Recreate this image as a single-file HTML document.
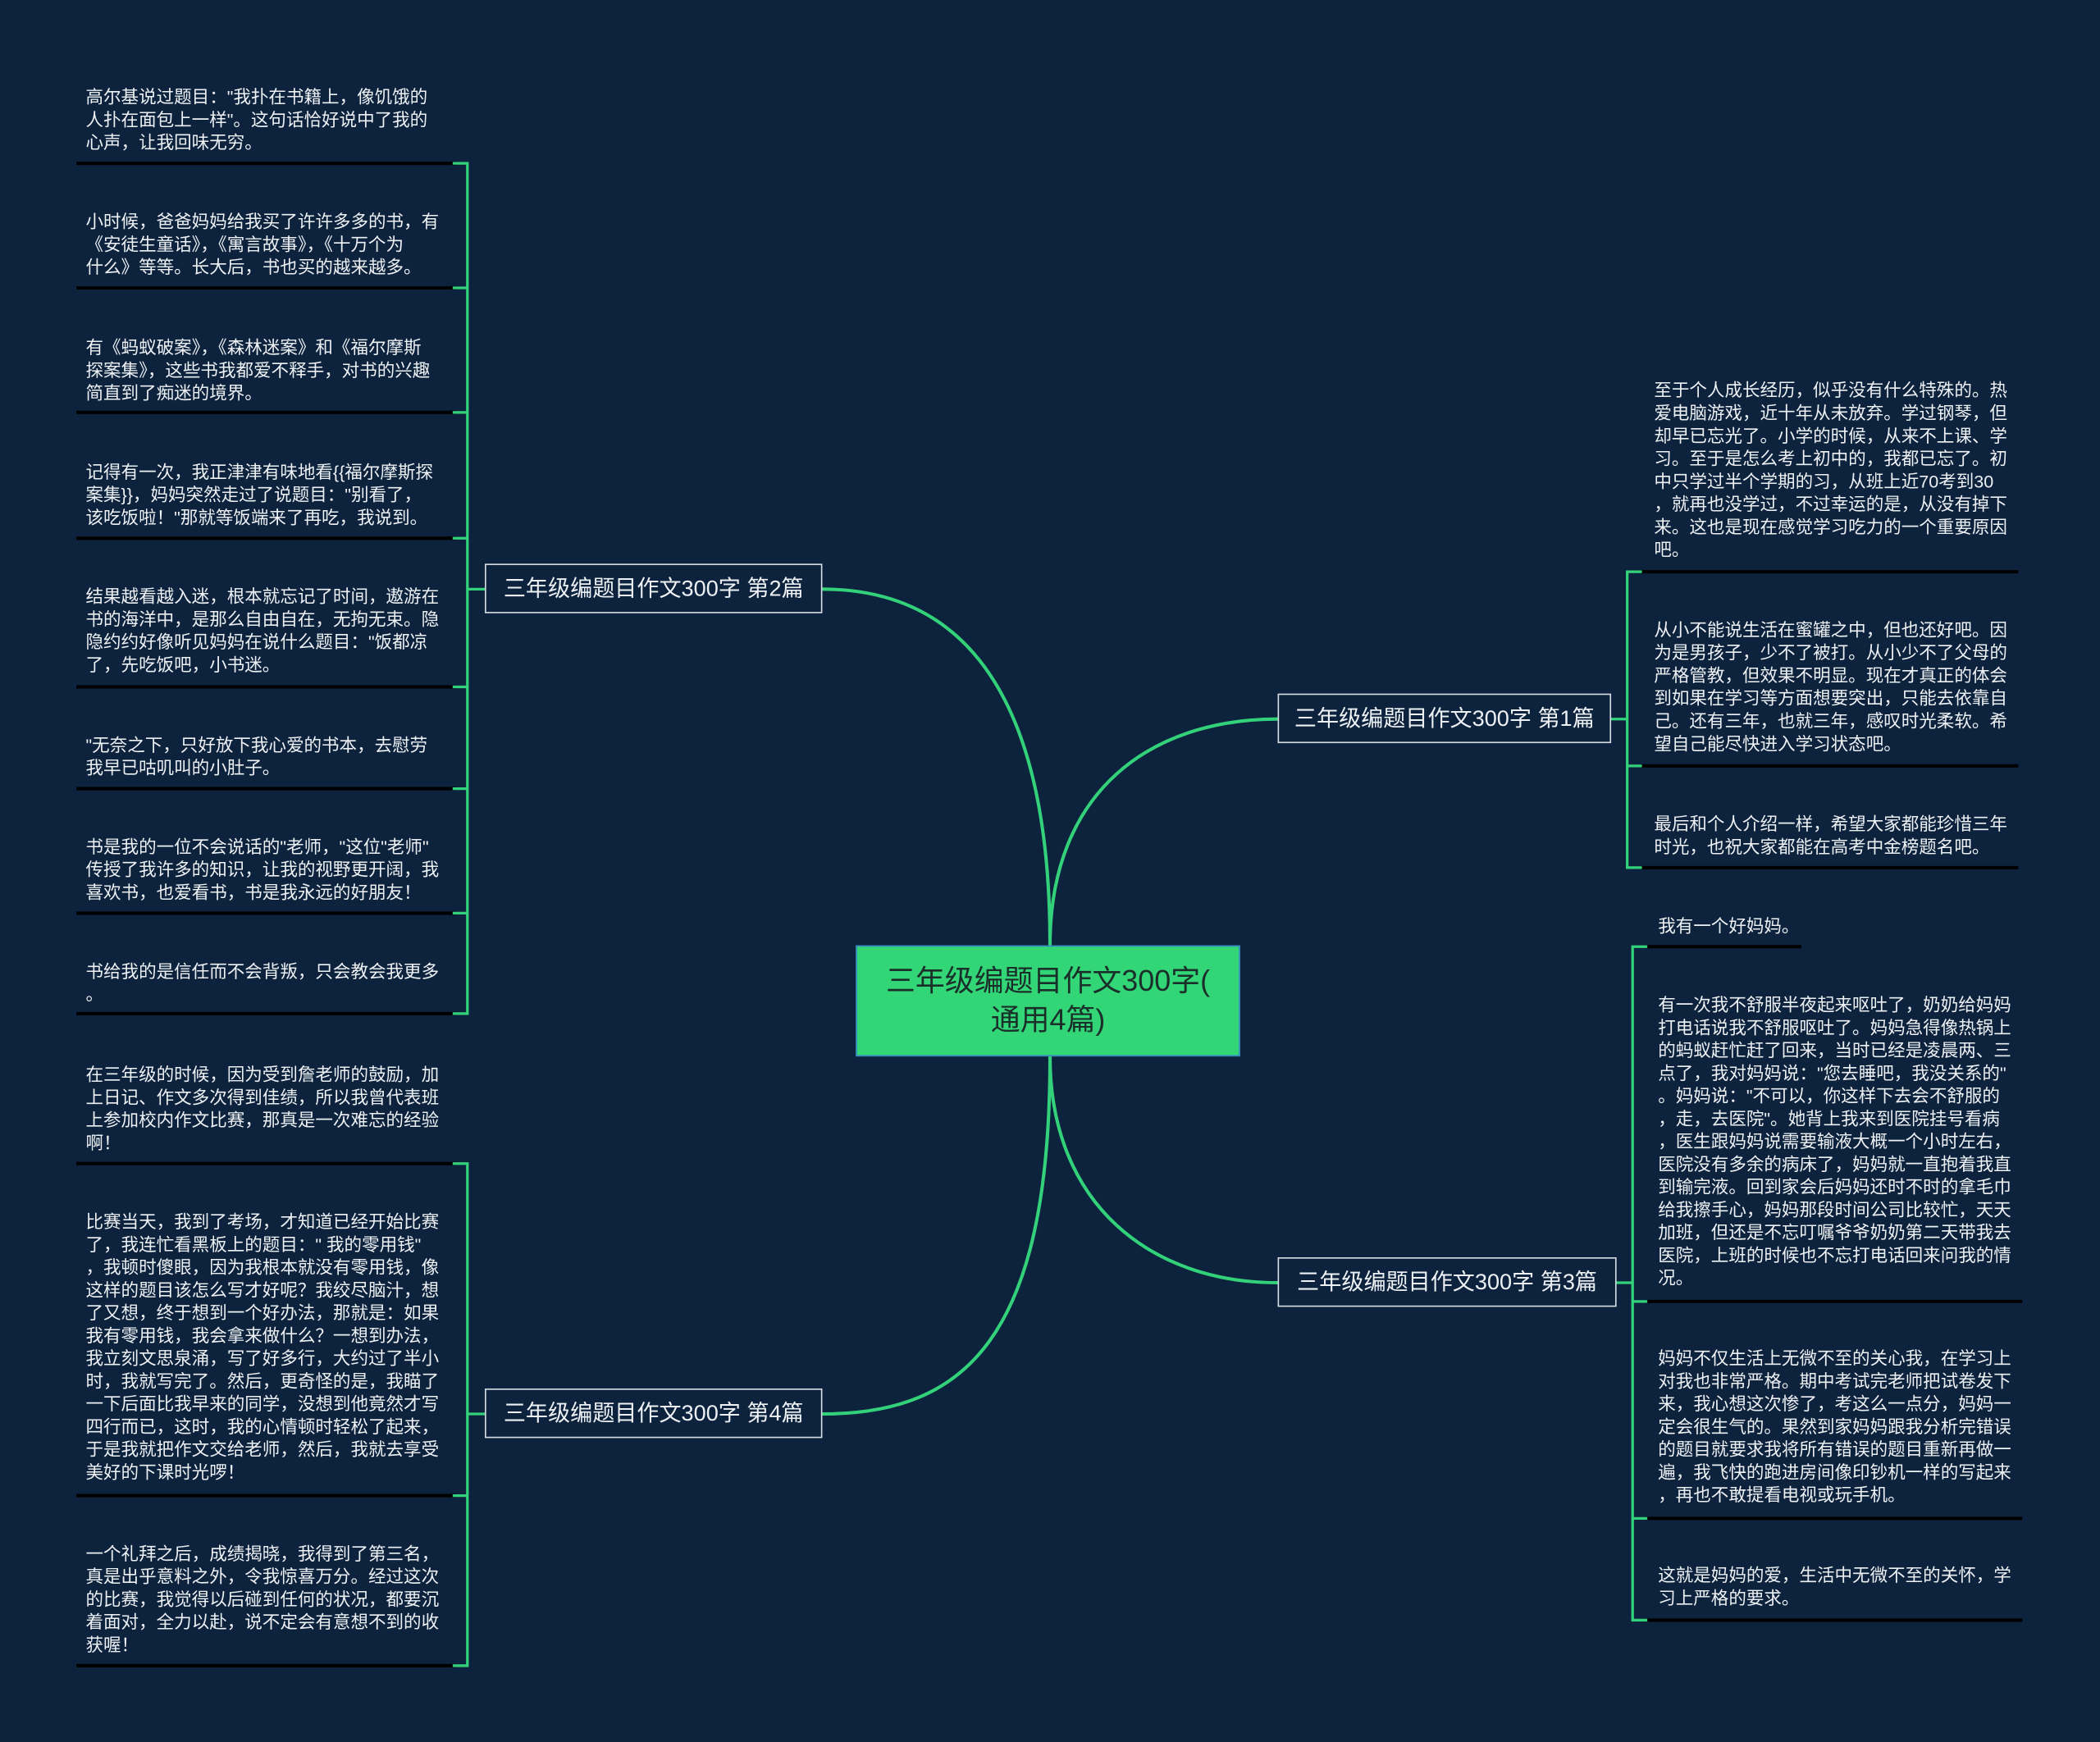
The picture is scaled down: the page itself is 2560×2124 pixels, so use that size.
<!DOCTYPE html>
<html><head><meta charset="utf-8"><style>
html,body{margin:0;padding:0;background:#0c223d;}
body{width:2560px;height:2124px;overflow:hidden;}
#w{position:absolute;left:0;top:0;width:1568px;height:1301px;transform:scale(1.63265,1.63259);transform-origin:0 0;font-family:"Liberation Sans","Noto Sans CJK SC",sans-serif;}
.t{position:absolute;color:#eef1f4;font-size:13.2px;line-height:17px;white-space:nowrap;}
.b{position:absolute;border:1.5px solid #d8dde3;color:#eef1f4;font-size:16.6px;line-height:35px;height:35px;text-align:center;box-sizing:content-box;white-space:nowrap;}
.c{position:absolute;left:639px;top:706px;width:287px;background:#32d676;border:1.5px solid #3a86c8;color:#1a2e2a;font-size:22px;line-height:29px;text-align:center;padding-top:11px;box-sizing:border-box;height:83px;white-space:nowrap;}
svg{position:absolute;left:0;top:0;}
</style></head><body><div id="w">
<svg width="1568" height="1301">
<g fill="none" stroke="#33d17a" stroke-width="2.5">
<path d="M784 706 C784 520 720 440 614 440"/>
<path d="M784 706 C784 590 860 537 954 537"/>
<path d="M784 789 C784 900 860 958 954 958"/>
<path d="M784 789 C784 1000 720 1056 614 1056"/>
</g>
<g stroke="#000" stroke-width="2.5">
<line x1="57" y1="122" x2="340" y2="122"/><line x1="57" y1="215" x2="340" y2="215"/><line x1="57" y1="308" x2="340" y2="308"/><line x1="57" y1="402" x2="340" y2="402"/><line x1="57" y1="513" x2="340" y2="513"/><line x1="57" y1="589" x2="340" y2="589"/><line x1="57" y1="682" x2="340" y2="682"/><line x1="57" y1="757" x2="340" y2="757"/>
<line x1="57" y1="869" x2="340" y2="869"/><line x1="57" y1="1117" x2="340" y2="1117"/><line x1="57" y1="1244" x2="340" y2="1244"/>
<line x1="1225" y1="427" x2="1507" y2="427"/><line x1="1225" y1="572" x2="1507" y2="572"/><line x1="1225" y1="648" x2="1507" y2="648"/>
<line x1="1229" y1="707" x2="1345" y2="707"/><line x1="1229" y1="972" x2="1510" y2="972"/><line x1="1229" y1="1134" x2="1510" y2="1134"/><line x1="1229" y1="1210" x2="1510" y2="1210"/>
</g>
<g fill="none" stroke="#33d17a" stroke-width="2">
<path d="M338 122 H349 V757 H338 M338 215 H349 M338 308 H349 M338 402 H349 M338 513 H349 M338 589 H349 M338 682 H349 M349 440 H362"/>
<path d="M338 869 H349 V1244 H338 M338 1117 H349 M349 1056 H362"/>
<path d="M1226 427 H1215 V648 H1226 M1215 572 H1226 M1202 537 H1215"/>
<path d="M1230 707 H1219 V1210 H1230 M1219 972 H1230 M1219 1134 H1230 M1206 958 H1219"/>
</g>
</svg>
<div class="c">三年级编题目作文300字(<br>通用4篇)</div>
<div class="b" style="left:362px;top:421px;width:250px;">三年级编题目作文300字 第2篇</div>
<div class="b" style="left:362px;top:1037px;width:250px;">三年级编题目作文300字 第4篇</div>
<div class="b" style="left:954px;top:518px;width:247px;">三年级编题目作文300字 第1篇</div>
<div class="b" style="left:954px;top:939px;width:251px;">三年级编题目作文300字 第3篇</div>

<div class="t" style="left:64px;top:64px">高尔基说过题目："我扑在书籍上，像饥饿的<br>人扑在面包上一样"。这句话恰好说中了我的<br>心声，让我回味无穷。</div>
<div class="t" style="left:64px;top:157px">小时候，爸爸妈妈给我买了许许多多的书，有<br>《安徒生童话》，《寓言故事》，《十万个为<br>什么》等等。长大后，书也买的越来越多。</div>
<div class="t" style="left:64px;top:251px">有《蚂蚁破案》，《森林迷案》和《福尔摩斯<br>探案集》，这些书我都爱不释手，对书的兴趣<br>简直到了痴迷的境界。</div>
<div class="t" style="left:64px;top:344px">记得有一次，我正津津有味地看{{福尔摩斯探<br>案集}}，妈妈突然走过了说题目："别看了，<br>该吃饭啦！"那就等饭端来了再吃，我说到。</div>
<div class="t" style="left:64px;top:437px">结果越看越入迷，根本就忘记了时间，遨游在<br>书的海洋中，是那么自由自在，无拘无束。隐<br>隐约约好像听见妈妈在说什么题目："饭都凉<br>了，先吃饭吧，小书迷。</div>
<div class="t" style="left:64px;top:548px">"无奈之下，只好放下我心爱的书本，去慰劳<br>我早已咕叽叫的小肚子。</div>
<div class="t" style="left:64px;top:624px">书是我的一位不会说话的"老师，"这位"老师"<br>传授了我许多的知识，让我的视野更开阔，我<br>喜欢书，也爱看书，书是我永远的好朋友！</div>
<div class="t" style="left:64px;top:717px">书给我的是信任而不会背叛，只会教会我更多<br>。</div>

<div class="t" style="left:64px;top:794px">在三年级的时候，因为受到詹老师的鼓励，加<br>上日记、作文多次得到佳绩，所以我曾代表班<br>上参加校内作文比赛，那真是一次难忘的经验<br>啊！</div>
<div class="t" style="left:64px;top:904px">比赛当天，我到了考场，才知道已经开始比赛<br>了，我连忙看黑板上的题目：" 我的零用钱"<br>，我顿时傻眼，因为我根本就没有零用钱，像<br>这样的题目该怎么写才好呢？我绞尽脑汁，想<br>了又想，终于想到一个好办法，那就是：如果<br>我有零用钱，我会拿来做什么？一想到办法，<br>我立刻文思泉涌，写了好多行，大约过了半小<br>时，我就写完了。然后，更奇怪的是，我瞄了<br>一下后面比我早来的同学，没想到他竟然才写<br>四行而已，这时，我的心情顿时轻松了起来，<br>于是我就把作文交给老师，然后，我就去享受<br>美好的下课时光啰！</div>
<div class="t" style="left:64px;top:1152px">一个礼拜之后，成绩揭晓，我得到了第三名，<br>真是出乎意料之外，令我惊喜万分。经过这次<br>的比赛，我觉得以后碰到任何的状况，都要沉<br>着面对，全力以赴，说不定会有意想不到的收<br>获喔！</div>

<div class="t" style="left:1235px;top:283px">至于个人成长经历，似乎没有什么特殊的。热<br>爱电脑游戏，近十年从未放弃。学过钢琴，但<br>却早已忘光了。小学的时候，从来不上课、学<br>习。至于是怎么考上初中的，我都已忘了。初<br>中只学过半个学期的习，从班上近70考到30<br>，就再也没学过，不过幸运的是，从没有掉下<br>来。这也是现在感觉学习吃力的一个重要原因<br>吧。</div>
<div class="t" style="left:1235px;top:462px">从小不能说生活在蜜罐之中，但也还好吧。因<br>为是男孩子，少不了被打。从小少不了父母的<br>严格管教，但效果不明显。现在才真正的体会<br>到如果在学习等方面想要突出，只能去依靠自<br>己。还有三年，也就三年，感叹时光柔软。希<br>望自己能尽快进入学习状态吧。</div>
<div class="t" style="left:1235px;top:607px">最后和个人介绍一样，希望大家都能珍惜三年<br>时光，也祝大家都能在高考中金榜题名吧。</div>

<div class="t" style="left:1238px;top:683px">我有一个好妈妈。</div>
<div class="t" style="left:1238px;top:742px">有一次我不舒服半夜起来呕吐了，奶奶给妈妈<br>打电话说我不舒服呕吐了。妈妈急得像热锅上<br>的蚂蚁赶忙赶了回来，当时已经是凌晨两、三<br>点了，我对妈妈说："您去睡吧，我没关系的"<br>。妈妈说："不可以，你这样下去会不舒服的<br>，走，去医院"。她背上我来到医院挂号看病<br>，医生跟妈妈说需要输液大概一个小时左右，<br>医院没有多余的病床了，妈妈就一直抱着我直<br>到输完液。回到家会后妈妈还时不时的拿毛巾<br>给我擦手心，妈妈那段时间公司比较忙，天天<br>加班，但还是不忘叮嘱爷爷奶奶第二天带我去<br>医院，上班的时候也不忘打电话回来问我的情<br>况。</div>
<div class="t" style="left:1238px;top:1006px">妈妈不仅生活上无微不至的关心我，在学习上<br>对我也非常严格。期中考试完老师把试卷发下<br>来，我心想这次惨了，考这么一点分，妈妈一<br>定会很生气的。果然到家妈妈跟我分析完错误<br>的题目就要求我将所有错误的题目重新再做一<br>遍，我飞快的跑进房间像印钞机一样的写起来<br>，再也不敢提看电视或玩手机。</div>
<div class="t" style="left:1238px;top:1168px">这就是妈妈的爱，生活中无微不至的关怀，学<br>习上严格的要求。</div>
</div></body></html>
